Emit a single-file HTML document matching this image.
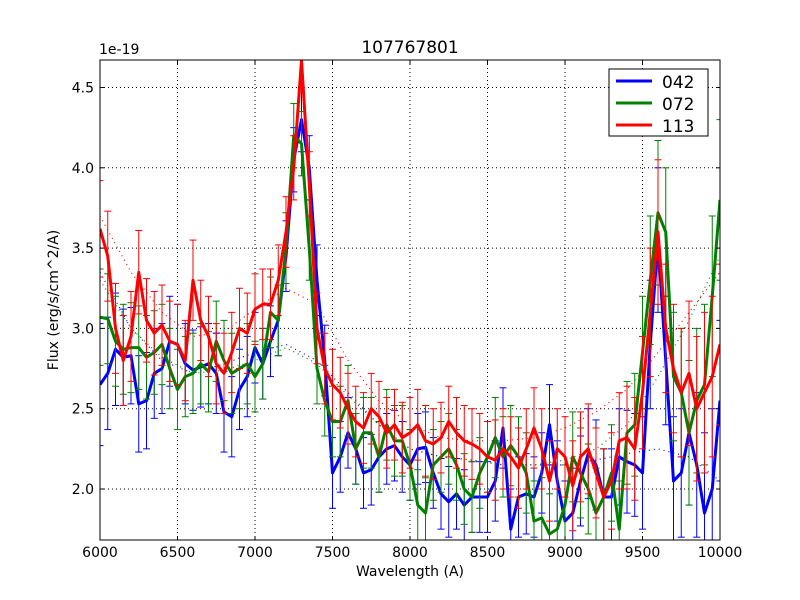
<!DOCTYPE html>
<html><head><meta charset="utf-8"><style>
body{margin:0;background:#fff;}
svg{display:block;font-family:"DejaVu Sans","Liberation Sans",sans-serif;}
</style></head><body>
<svg id="chart" width="800" height="600" viewBox="0 0 800 600" xmlns="http://www.w3.org/2000/svg">
<rect width="800" height="600" fill="#fff"/>
<defs><clipPath id="clip"><rect x="100" y="60" width="620" height="480"/></clipPath></defs>
<g id="grid"></g>
<g id="fits" clip-path="url(#clip)"></g>
<g id="series" clip-path="url(#clip)"></g>
<rect x="100" y="60" width="620" height="480" fill="none" stroke="#000" stroke-width="1"/>
<g id="ticks"></g>
<text x="410" y="53" font-size="17" text-anchor="middle">107767801</text>
<text x="99" y="54" font-size="14">1e-19</text>
<text x="410" y="576" font-size="14" text-anchor="middle">Wavelength (A)</text>
<text transform="translate(58,300) rotate(-90)" font-size="14" text-anchor="middle">Flux (erg/s/cm^2/A)</text>
<g id="legend">
<rect x="609" y="69" width="99" height="67" fill="#fff" stroke="#000" stroke-width="1"/>
</g>
</svg>
<script>
const wl0 = 6000, wlStep = 50;
const blueVals = [2.65,2.72,2.87,2.82,2.83,2.53,2.55,2.72,2.75,2.92,2.90,2.78,2.74,2.76,2.78,2.72,2.48,2.45,2.62,2.70,2.88,2.78,2.92,3.05,3.45,4.05,4.30,4.00,3.30,2.80,2.10,2.20,2.35,2.25,2.10,2.12,2.20,2.25,2.27,2.20,2.15,2.25,2.26,2.10,1.97,1.92,1.97,1.90,1.95,1.95,1.95,2.05,2.38,1.75,1.95,1.97,1.95,2.10,2.40,2.05,1.80,1.85,2.05,2.22,2.15,1.95,1.95,2.20,2.17,2.15,2.10,2.90,3.55,2.80,2.05,2.10,2.35,2.15,1.85,2.00,2.55];
const greenVals = [3.07,3.06,2.92,2.87,2.88,2.88,2.82,2.85,2.90,2.75,2.62,2.70,2.72,2.78,2.73,2.92,2.80,2.72,2.75,2.78,2.70,2.78,3.10,3.05,3.50,4.20,4.15,3.50,2.75,2.55,2.42,2.42,2.55,2.25,2.35,2.35,2.20,2.40,2.30,2.30,2.15,1.90,1.85,2.15,2.20,2.25,2.15,2.00,1.95,2.10,2.20,2.32,2.20,2.27,2.20,2.10,1.80,1.82,1.72,1.75,1.90,2.20,2.10,2.00,1.85,1.95,2.10,1.75,2.35,2.40,2.85,3.30,3.72,3.60,2.70,2.60,2.35,2.55,2.65,3.20,3.80];
const redVals = [3.62,3.45,3.00,2.80,2.95,3.35,3.05,2.97,3.02,2.92,2.90,2.80,3.30,3.05,2.95,2.78,2.72,2.85,3.00,2.97,3.12,3.15,3.15,3.30,3.60,4.00,4.67,3.90,3.00,2.75,2.65,2.60,2.50,2.42,2.38,2.50,2.45,2.35,2.40,2.32,2.35,2.40,2.30,2.28,2.32,2.42,2.35,2.30,2.28,2.25,2.20,2.18,2.25,2.20,2.13,2.25,2.38,2.25,2.05,2.25,2.20,2.02,2.20,2.25,2.10,1.95,2.05,2.30,2.32,2.25,2.60,3.10,3.60,3.00,2.75,2.60,2.72,2.50,2.60,2.70,2.90];
const blueErr = [0.38,0.35,0.35,0.30,0.30,0.30,0.30,0.28,0.28,0.28,0.25,0.25,0.25,0.25,0.25,0.25,0.25,0.25,0.25,0.25,0.22,0.22,0.22,0.22,0.22,0.20,0.20,0.20,0.22,0.22,0.22,0.22,0.22,0.22,0.22,0.22,0.22,0.22,0.22,0.22,0.22,0.22,0.22,0.22,0.22,0.22,0.22,0.22,0.22,0.22,0.22,0.25,0.25,0.25,0.25,0.25,0.25,0.25,0.25,0.25,0.25,0.28,0.28,0.28,0.28,0.30,0.30,0.30,0.32,0.32,0.35,0.40,0.45,0.40,0.40,0.40,0.45,0.45,0.50,0.50,0.50];
const greenErr = [0.30,0.28,0.28,0.28,0.28,0.26,0.26,0.26,0.25,0.25,0.25,0.25,0.25,0.25,0.25,0.25,0.25,0.25,0.25,0.25,0.22,0.22,0.22,0.22,0.22,0.20,0.20,0.20,0.22,0.22,0.22,0.22,0.22,0.22,0.22,0.22,0.22,0.22,0.22,0.22,0.22,0.22,0.22,0.22,0.22,0.22,0.22,0.22,0.22,0.22,0.22,0.25,0.25,0.25,0.25,0.25,0.25,0.25,0.25,0.25,0.25,0.28,0.28,0.28,0.28,0.30,0.30,0.30,0.32,0.32,0.35,0.40,0.45,0.40,0.40,0.40,0.45,0.45,0.50,0.50,0.50];
const redErr = [0.30,0.28,0.28,0.28,0.28,0.26,0.26,0.26,0.25,0.25,0.25,0.25,0.25,0.25,0.25,0.25,0.25,0.25,0.25,0.25,0.22,0.22,0.22,0.22,0.22,0.20,0.20,0.20,0.22,0.22,0.22,0.22,0.22,0.22,0.22,0.22,0.22,0.22,0.22,0.22,0.22,0.22,0.22,0.22,0.22,0.22,0.22,0.22,0.22,0.22,0.22,0.25,0.25,0.25,0.25,0.25,0.25,0.25,0.25,0.25,0.25,0.28,0.28,0.28,0.28,0.30,0.30,0.30,0.32,0.32,0.35,0.40,0.45,0.40,0.40,0.40,0.45,0.45,0.50,0.50,0.50];
const fitWl = [6000,6200,6400,6600,6800,7000,7200,7400,7600,7800,8000,8200,8400,8600,8800,9000,9200,9400,9600,9800,10000];
const blueFit = [3.35,3.00,2.80,2.72,2.78,2.85,2.90,2.80,2.60,2.40,2.25,2.20,2.18,2.15,2.15,2.15,2.18,2.22,2.25,2.20,2.05];
const greenFit = [3.30,3.00,2.82,2.72,2.74,2.80,2.88,2.78,2.58,2.40,2.25,2.20,2.18,2.15,2.15,2.18,2.25,2.40,2.70,3.05,3.45];
const redFit = [3.70,3.35,3.10,2.95,2.98,3.12,3.25,3.15,2.80,2.55,2.40,2.32,2.30,2.30,2.32,2.38,2.48,2.62,2.85,3.10,3.35];
const xTicks = [6000,6500,7000,7500,8000,8500,9000,9500,10000];
const yTicks = [2.0,2.5,3.0,3.5,4.0,4.5];
const seriesNames = ["042","072","113"];

const NS = "http://www.w3.org/2000/svg";
const X = w => 100 + (w - 6000) / 4000 * 620;
const Y = v => 489 - (v - 2.0) * 160.6;
function mk(tag, attrs, parent){const e=document.createElementNS(NS,tag);for(const k in attrs)e.setAttribute(k,attrs[k]);parent.appendChild(e);return e;}
const grid=document.getElementById('grid'),ticks=document.getElementById('ticks'),fits=document.getElementById('fits'),ser=document.getElementById('series'),leg=document.getElementById('legend');

xTicks.forEach(t=>{
  const x=X(t);
  if(t>6000&&t<10000){const g=mk('line',{x1:x,x2:x,y1:60,y2:540,stroke:'#000','stroke-dasharray':'1,3','stroke-width':1},grid);
  
  }
  mk('line',{x1:x,x2:x,y1:540,y2:536,stroke:'#000'},ticks);
  mk('line',{x1:x,x2:x,y1:60,y2:64,stroke:'#000'},ticks);
  const tx=mk('text',{x:x,y:557,'font-size':14,'text-anchor':'middle'},ticks);tx.textContent=t;
  
  
});
yTicks.forEach(t=>{
  const y=Y(t);
  const g=mk('line',{x1:100,x2:720,y1:y,y2:y,stroke:'#000','stroke-dasharray':'1,3','stroke-width':1},grid);
  
  
  mk('line',{x1:100,x2:104,y1:y,y2:y,stroke:'#000'},ticks);
  mk('line',{x1:716,x2:720,y1:y,y2:y,stroke:'#000'},ticks);
  const tx=mk('text',{x:94,y:y+5,'font-size':14,'text-anchor':'end'},ticks);tx.textContent=t.toFixed(1);
  
  
});

const cols=['#0000ff','#008000','#ff0000'];
[blueFit,greenFit,redFit].forEach((f,i)=>{
  const p=mk('polyline',{points:f.map((v,j)=>X(fitWl[j])+','+Y(v)).join(' '),fill:'none',stroke:cols[i],'stroke-width':1.2,'stroke-dasharray':'1,4'},fits);
  
  
});
const vals=[blueVals,greenVals,redVals],errs=[blueErr,greenErr,redErr];
vals.forEach((vs,i)=>{
  const g=mk('g',{},ser);
  
  
  vs.forEach((v,j)=>{
    const x=X(wl0+j*wlStep),e=errs[i][j];
    const y1=Y(v-e),y2=Y(v+e);
    mk('line',{x1:x,x2:x,y1:y1,y2:y2,stroke:cols[i],'stroke-width':1},g);
    mk('line',{x1:x-3.5,x2:x+3.5,y1:y1,y2:y1,stroke:cols[i],'stroke-width':1},g);
    mk('line',{x1:x-3.5,x2:x+3.5,y1:y2,y2:y2,stroke:cols[i],'stroke-width':1},g);
  });
  const p=mk('polyline',{points:vs.map((v,j)=>X(wl0+j*wlStep)+','+Y(v)).join(' '),fill:'none',stroke:cols[i],'stroke-width':3,'stroke-linejoin':'round'},g);
  
  
});
seriesNames.forEach((n,i)=>{
  const y=81+i*22;
  const ln=mk('line',{x1:616,x2:652,y1:y,y2:y,stroke:cols[i],'stroke-width':3},leg);
  
  
  const t=mk('text',{x:662,y:y+7,'font-size':17},leg);t.textContent=n;
  
  
});
</script>
</body></html>
